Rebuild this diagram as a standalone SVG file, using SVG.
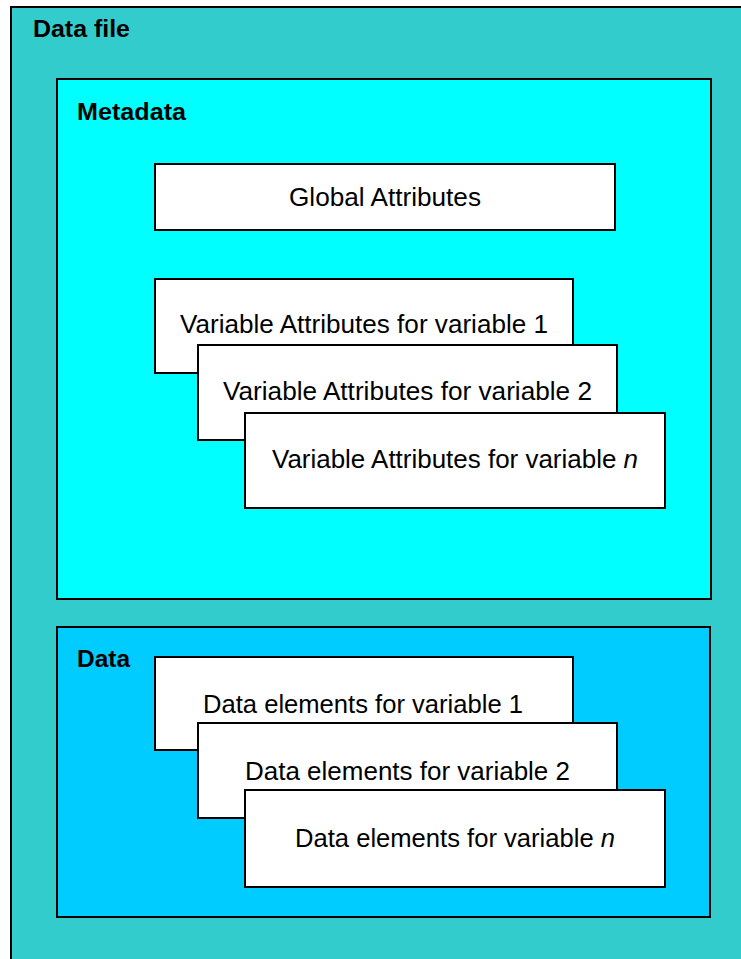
<svg xmlns="http://www.w3.org/2000/svg" width="741" height="959" viewBox="0 0 741 959">
<style>
.box{stroke:#000;stroke-width:2}
.w{fill:#fff;stroke:#000;stroke-width:2}
.t{font-family:"Liberation Sans",Arial,sans-serif;font-size:25px;fill:#000}
.b{font-family:"Liberation Sans",Arial,sans-serif;font-size:24px;font-weight:bold;fill:#000}
</style>
<rect width="741" height="959" fill="#fff"/>
<g id="datafile">
<rect class="box" x="11" y="7" width="740" height="960" fill="#33CCCC"/>
<text class="b" x="33" y="37" textLength="97" lengthAdjust="spacingAndGlyphs">Data file</text>
</g>
<g id="metadata">
<rect class="box" x="57" y="79" width="654" height="520" fill="#00FFFF"/>
<text class="b" x="77" y="120" textLength="109" lengthAdjust="spacingAndGlyphs">Metadata</text>
</g>
<g id="global">
<rect class="w" x="155" y="164" width="460" height="66"/>
<text class="t" x="289" y="206" textLength="192" lengthAdjust="spacingAndGlyphs">Global Attributes</text>
</g>
<g id="var1">
<rect class="w" x="155" y="279" width="418" height="94"/>
<text class="t" x="180" y="333" textLength="368" lengthAdjust="spacingAndGlyphs">Variable Attributes for variable 1</text>
</g>
<g id="var2">
<rect class="w" x="198" y="345" width="419" height="95"/>
<text class="t" x="223" y="400" textLength="369" lengthAdjust="spacingAndGlyphs">Variable Attributes for variable 2</text>
</g>
<g id="varn">
<rect class="w" x="245" y="413" width="420" height="95"/>
<text class="t" x="272" y="468" textLength="366" lengthAdjust="spacingAndGlyphs">Variable Attributes for variable <tspan font-style="italic">n</tspan></text>
</g>
<g id="data">
<rect class="box" x="57" y="627" width="653" height="290" fill="#00CCFF"/>
<text class="b" x="77" y="667" textLength="53" lengthAdjust="spacingAndGlyphs">Data</text>
</g>
<g id="data1">
<rect class="w" x="155" y="657" width="418" height="93"/>
<text class="t" x="203" y="713" textLength="320" lengthAdjust="spacingAndGlyphs">Data elements for variable 1</text>
</g>
<g id="data2">
<rect class="w" x="198" y="723" width="419" height="95"/>
<text class="t" x="245" y="780" textLength="325" lengthAdjust="spacingAndGlyphs">Data elements for variable 2</text>
</g>
<g id="datan">
<rect class="w" x="245" y="790" width="420" height="97"/>
<text class="t" x="295" y="847" textLength="320" lengthAdjust="spacingAndGlyphs">Data elements for variable <tspan font-style="italic">n</tspan></text>
</g>
<g id="connectors"></g>
</svg>
